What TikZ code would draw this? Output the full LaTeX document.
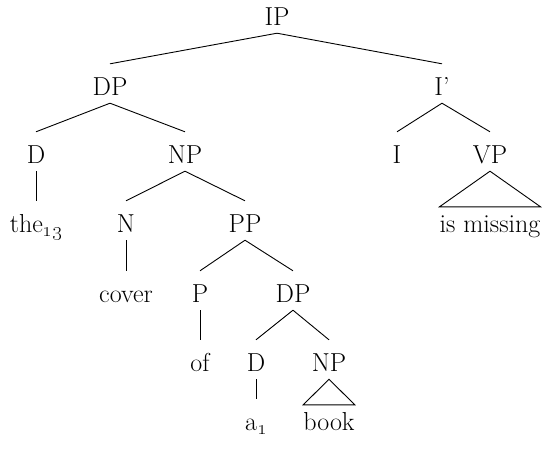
\documentclass[tikz,border=0pt]{standalone}
% index subscript with old-style figures
\newcommand\lowidx[1]{\raisebox{-4.5pt}{\fontsize{20}{20}\selectfont\oldstylenums{#1}}}
\begin{document}
\begin{tikzpicture}[x=1pt,y=-1pt,
  lbl/.style={font=\fontsize{26}{31}\selectfont, inner sep=0pt, anchor=base,
              text height=31pt, text depth=8pt},
  roofleaf/.style={lbl, text height=25pt},
  edge/.style={line width=0.9pt}]
\useasboundingbox (0,0) rectangle (548,448);

% labels, placed on their baselines
\node[lbl] (ip)    at (277,25)  {IP};
\node[lbl] (dpa)   at (110,95)  {DP};
\node[lbl] (ibar)  at (442,95)  {I'};
\node[lbl] (da)    at (36,163)  {D};
\node[lbl] (npa)   at (185,163) {NP};
\node[lbl] (infl)  at (397,163) {I};
\node[lbl] (vp)    at (490,163) {VP};
\node[lbl] (the)   at (36,232)  {the\lowidx{13}};
\node[lbl] (n)     at (126,232) {N};
\node[lbl] (pp)    at (245,232) {PP};
\node[roofleaf] (miss) at (490,232) {is missing};
\node[lbl] (cover) at (126,302) {cover};
\node[lbl] (p)     at (200,302) {P};
\node[lbl] (dpb)   at (293,302) {DP};
\node[lbl] (of)    at (200,371) {of};
\node[lbl] (db)    at (256,371) {D};
\node[lbl] (npb)   at (329,371) {NP};
\node[lbl] (a)     at (256,430) {a\lowidx{1}};
\node[roofleaf] (book) at (329,430) {book};

% branches
\draw[edge] (ip.south) -- (dpa.north);
\draw[edge] (ip.south) -- (ibar.north);
\draw[edge] (dpa.south) -- (da.north);
\draw[edge] (dpa.south) -- (npa.north);
\draw[edge] (da.south) -- (the.north);
\draw[edge] (npa.south) -- (n.north);
\draw[edge] (npa.south) -- (pp.north);
\draw[edge] (n.south) -- (cover.north);
\draw[edge] (pp.south) -- (p.north);
\draw[edge] (pp.south) -- (dpb.north);
\draw[edge] (p.south) -- (of.north);
\draw[edge] (dpb.south) -- (db.north);
\draw[edge] (dpb.south) -- (npb.north);
\draw[edge] (db.south) -- (a.north);
\draw[edge] (ibar.south) -- (infl.north);
\draw[edge] (ibar.south) -- (vp.north);

% roofs over unanalysed constituents
\draw[edge] (vp.south) -- (miss.north west) -- (miss.north east) -- cycle;
\draw[edge] (npb.south) -- (book.north west) -- (book.north east) -- cycle;
\end{tikzpicture}
\end{document}
